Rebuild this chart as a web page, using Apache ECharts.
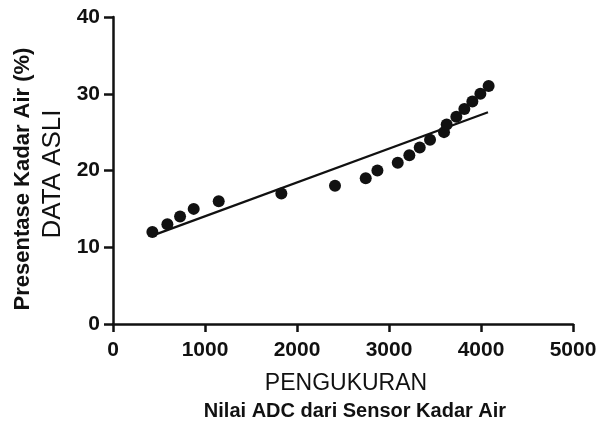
<!DOCTYPE html>
<html>
<head>
<meta charset="utf-8">
<script src="https://cdn.jsdelivr.net/npm/echarts@6/dist/echarts.min.js"></script>
<style>
html,body{margin:0;padding:0;background:#fff;}
#chart{width:609px;height:423px;}
</style>
</head>
<body>
<div id="chart"></div>
<script>
// Measured data (ADC value, moisture %)
var adcValues = [428, 591, 729, 877, 1149, 1830, 2413, 2747, 2874, 3095, 3221, 3334, 3446, 3598, 3627, 3732, 3819, 3906, 3993, 4083];
var moistureValues = [12, 13, 14, 15, 16, 17, 18, 19, 20, 21, 22, 23, 24, 25, 26, 27, 28, 29, 30, 31];
// Fit line endpoints
var fitX = [435, 4076];
var fitY = [11.55, 27.6];
var xTicks = [0, 1000, 2000, 3000, 4000, 5000];
var yTicks = [0, 10, 20, 30, 40];

var points = adcValues.map(function (x, i) { return [x, moistureValues[i]]; });
var fitLine = fitX.map(function (x, i) { return [x, fitY[i]]; });

var chart = echarts.init(document.getElementById('chart'));
var font = 'Liberation Sans, Arial, sans-serif';
chart.setOption({
  animation: false,
  backgroundColor: '#fff',
  grid: { left: 113, right: 36, top: 17, bottom: 99, containLabel: false },
  xAxis: {
    type: 'value', min: xTicks[0], max: xTicks[xTicks.length - 1], interval: 1000,
    splitLine: { show: false },
    axisLine: { show: true, onZero: false, lineStyle: { color: '#111', width: 2.5 } },
    axisTick: { show: true, length: 8, lineStyle: { color: '#111', width: 2.5 } },
    axisLabel: { fontFamily: font, fontWeight: 'bold', fontSize: 21, color: '#111', margin: 16,
      formatter: function (v) { return String(v); } }
  },
  yAxis: {
    type: 'value', min: yTicks[0], max: yTicks[yTicks.length - 1], interval: 10,
    splitLine: { show: false },
    axisLine: { show: true, onZero: false, lineStyle: { color: '#111', width: 2.5 } },
    axisTick: { show: true, length: 9, lineStyle: { color: '#111', width: 2.5 } },
    axisLabel: { fontFamily: font, fontWeight: 'bold', fontSize: 21, color: '#111', margin: 13,
      formatter: function (v) { return String(v); } }
  },
  graphic: [
    { type: 'text', x: 23, y: 179, rotation: Math.PI / 2,
      style: { text: 'Presentase Kadar Air (%)', font: 'bold 22px ' + font, fill: '#111', align: 'center', verticalAlign: 'middle' } },
    { type: 'text', x: 53, y: 174, rotation: Math.PI / 2,
      style: { text: 'DATA ASLI', font: '26px ' + font, fill: '#111', align: 'center', verticalAlign: 'middle' } },
    { type: 'text', x: 346, y: 384,
      style: { text: 'PENGUKURAN', font: '23px ' + font, fill: '#111', align: 'center', verticalAlign: 'middle' } },
    { type: 'text', x: 355, y: 411,
      style: { text: 'Nilai ADC dari Sensor Kadar Air', font: 'bold 20px ' + font, fill: '#111', align: 'center', verticalAlign: 'middle' } }
  ],
  series: [
    { type: 'line', data: fitLine, showSymbol: false, symbol: 'none',
      lineStyle: { color: '#111', width: 2.2 }, z: 2 },
    { type: 'scatter', data: points, symbol: 'circle', symbolSize: 12,
      itemStyle: { color: '#111', opacity: 1 }, z: 3 }
  ]
});
</script>
</body>
</html>
